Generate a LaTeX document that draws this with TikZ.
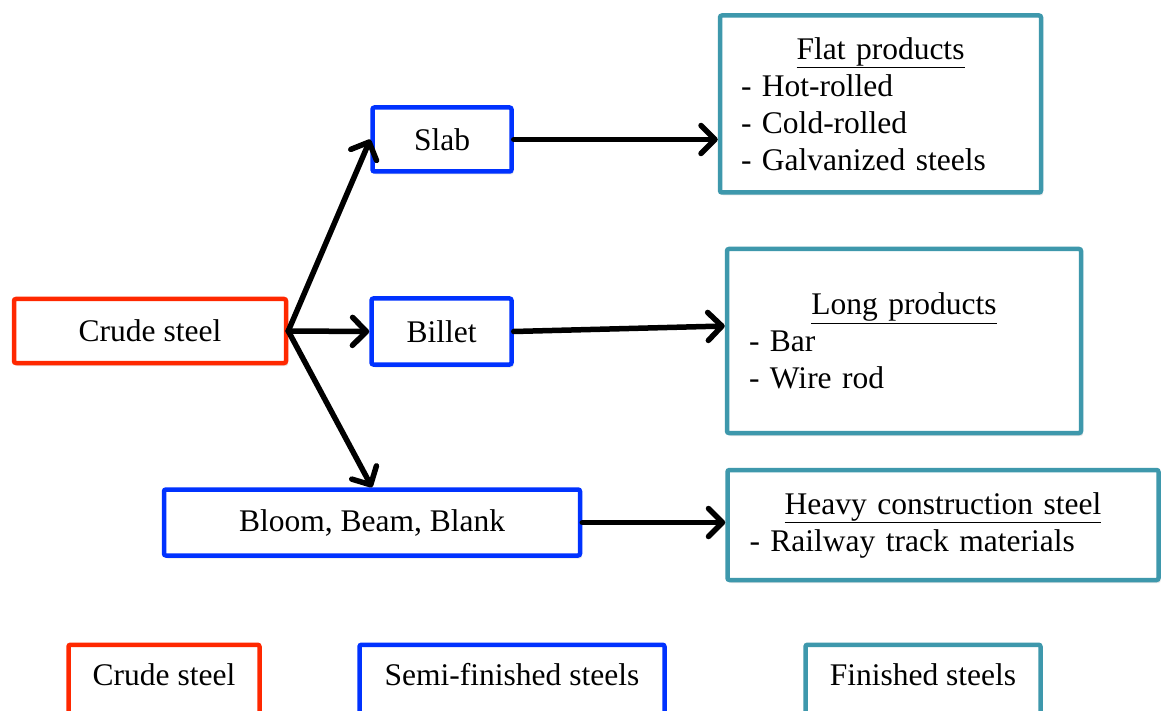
\documentclass[tikz,border=0pt]{standalone}
\usepackage{fontspec}
\setmainfont{Liberation Serif}
\newfontfamily\timesfont{Liberation Serif}
\usepackage{tikz}
\usetikzlibrary{arrows.meta}
\usetikzlibrary{shadows}

\definecolor{crudered}{RGB}{255,40,0}
\definecolor{semiblue}{RGB}{0,50,255}
\definecolor{finteal}{RGB}{62,152,172}

\tikzset{
  box/.style={line width=4.5pt, rounded corners=2pt, fill=white, inner sep=0pt,
    font=\timesfont\fontsize{31.5}{37}\selectfont,
    drop shadow={opacity=0.18, shadow xshift=2pt, shadow yshift=-3pt}},
  crudebox/.style={box, draw=crudered},
  semibox/.style={box, draw=semiblue},
  finbox/.style={box, draw=finteal, align=left},
  legendbox/.style={box, anchor=north, text height=22pt, text depth=60pt, inner ysep=18.5pt},
  flow/.style={black, line width=5.5pt, line cap=round,
    -{Straight Barb[length=14pt, width=28pt, line width=5.5pt, line cap=round, line join=round]}},
}

\begin{document}
\begin{tikzpicture}[x=1pt, y=-1pt]

\useasboundingbox (0,0) rectangle (1162,711);
\fill[white] (0,0) rectangle (1162,711);
\clip (0,0) rectangle (1162,711);

% crude and semi-finished
\node[crudebox, minimum width=272, minimum height=64] (crude) at (150,331) {Crude steel};
\node[semibox, minimum width=139, minimum height=64] (slab) at (442,139.5) {Slab};
\node[semibox, minimum width=140, minimum height=66] (billet) at (441.5,331.5) {Billet};
\node[semibox, minimum width=416, minimum height=66] (bloom) at (372,522.5) {Bloom, Beam, Blank};

% finished
\node[finbox, minimum width=321, minimum height=177, text width=279] (flat) at (880.5,104)
  {\centerline{\underline{Flat products}}
   - Hot-rolled\\
   - Cold-rolled\\
   - Galvanized steels};
\node[finbox, minimum width=354, minimum height=184, text width=310] (long) at (904,341)
  {\centerline{\underline{Long products}}
   - Bar\\
   - Wire rod};
\node[finbox, minimum width=431, minimum height=110, text width=387] (heavy) at (943,525)
  {\centerline{\underline{Heavy construction steel}}
   - Railway track materials};

% arrows
\draw[flow] (crude.east) -- (slab.west);
\draw[flow] (crude.east) -- (billet.west);
\draw[flow] (crude.east) -- (bloom.north);
\draw[flow] (slab.east) -- (slab.east -| flat.west);
\draw[flow] (billet.east) -- ([yshift=15pt]long.west);
\draw[flow] (bloom.east) -- (bloom.east -| heavy.west);

% legend
\node[legendbox, draw=crudered, minimum width=191] (lcrude) at (164,642.5) {Crude steel};
\node[legendbox, draw=semiblue, minimum width=305] (lsemi) at (512,642.5) {Semi-finished steels};
\node[legendbox, draw=finteal, minimum width=235] (lfin) at (923,642.5) {Finished steels};

\end{tikzpicture}
\end{document}
